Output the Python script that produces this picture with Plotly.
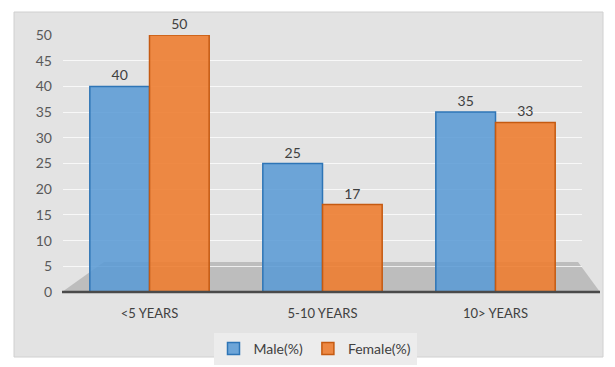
import plotly.graph_objects as go

categories = ["<5 YEARS", "5-10 YEARS", "10> YEARS"]
male = [40, 25, 35]
female = [50, 17, 33]
y_ticks = [0, 5, 10, 15, 20, 25, 30, 35, 40, 45, 50]

W, H = 615, 367
L, R, T, B = 63, 33, 35, 75
pw, ph = W - L - R, H - T - B

def px(x):
    return (x - L) / pw

def py(y):
    return (H - B - y) / ph

font_family = "Lato, 'Open Sans', sans-serif"

fig = go.Figure()
fig.add_trace(go.Bar(
    x=categories, y=male, name="Male(%)",
    marker=dict(color="rgba(91,155,213,0.88)", line=dict(color="#2e75b6", width=1.5)),
    text=[str(v) for v in male], textposition="outside", cliponaxis=False,
    textfont=dict(size=14, color="#404040", family=font_family),
))
fig.add_trace(go.Bar(
    x=categories, y=female, name="Female(%)",
    marker=dict(color="rgba(237,125,49,0.9)", line=dict(color="#c55a11", width=1.5)),
    text=[str(v) for v in female], textposition="outside", cliponaxis=False,
    textfont=dict(size=14, color="#404040", family=font_family),
))

shapes = [
    dict(type="rect", xref="paper", yref="paper", layer="below",
         x0=px(14), x1=px(603), y0=py(357), y1=py(12),
         fillcolor="#e3e3e3", line=dict(color="#d0d0d0", width=1)),
    dict(type="path", xref="paper", yref="paper", layer="below",
         path=f"M {px(62)} {py(292)} L {px(600)} {py(292)} L {px(578)} {py(262)} L {px(104)} {py(262)} Z",
         fillcolor="#bdbdbd", line=dict(width=0)),
    dict(type="line", xref="paper", yref="paper",
         x0=px(62), x1=px(600), y0=py(292), y1=py(292),
         line=dict(color="#4a4a4a", width=2.5)),
]

fig.update_layout(
    width=W, height=H,
    margin=dict(l=L, r=R, t=T, b=B, autoexpand=False),
    paper_bgcolor="white",
    plot_bgcolor="rgba(0,0,0,0)",
    barmode="group",
    bargap=0.31,
    bargroupgap=0,
    font=dict(family=font_family, size=13, color="#595959"),
    shapes=shapes,
    showlegend=True,
    legend=dict(
        orientation="h", xref="container", yref="container",
        x=315 / W, xanchor="center", y=1 - 349 / H, yanchor="middle",
        bgcolor="#ececec", font=dict(size=14, color="#404040"),
        itemwidth=30, traceorder="normal", tracegroupgap=0,
    ),
    xaxis=dict(showgrid=False, showline=False, ticks="", zeroline=False,
               ticklabelstandoff=12,
               tickfont=dict(size=13, color="#404040")),
    yaxis=dict(range=[0, 50], tickvals=y_ticks, showgrid=True,
               gridcolor="rgba(255,255,255,0.75)", gridwidth=1,
               zeroline=False, showline=False, ticks="",
               ticklabelstandoff=10,
               tickfont=dict(size=14, color="#595959")),
)

fig.write_html("out.html")
